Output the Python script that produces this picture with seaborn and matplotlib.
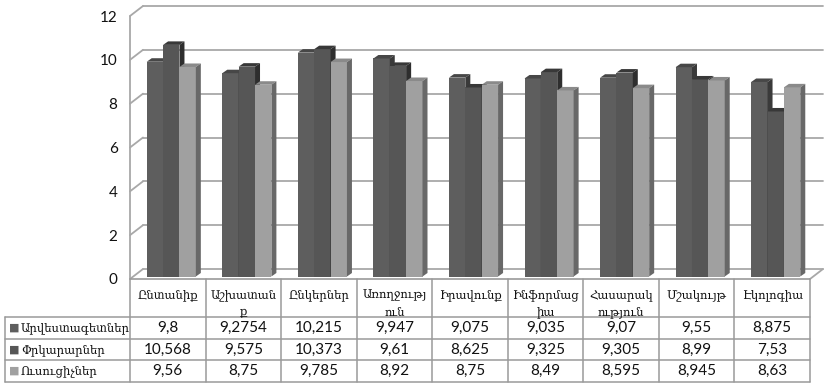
import numpy as np
import pandas as pd
import matplotlib
matplotlib.use("Agg")
import matplotlib.pyplot as plt
import seaborn as sns
from matplotlib.patches import Polygon

# ---- data -------------------------------------------------------------
categories = ["Ընտանիք", "Աշխատանք", "Ընկերներ", "Առողջություն", "Իրավունք",
              "Ինֆորմացիա", "Հասարակություն", "Մշակույթ", "Էկոլոգիա"]
category_labels = ["Ընտանիք", "Աշխատան\nք", "Ընկերներ", "Առողջությ\nուն", "Իրավունք",
                   "Ինֆորմաց\nիա", "Հասարակ\nություն", "Մշակույթ", "Էկոլոգիա"]
series_names = ["Արվեստագետներ", "Փրկարարներ", "Ուսուցիչներ"]
artists = [9.8, 9.2754, 10.215, 9.947, 9.075, 9.035, 9.07, 9.55, 8.875]
rescuers = [10.568, 9.575, 10.373, 9.61, 8.625, 9.325, 9.305, 8.99, 7.53]
teachers = [9.56, 8.75, 9.785, 8.92, 8.75, 8.49, 8.595, 8.945, 8.63]
y_ticks = [0, 2, 4, 6, 8, 10, 12]

series_values = [artists, rescuers, teachers]

# ---- styling ----------------------------------------------------------
front_colors = ["#5e5e5e", "#565656", "#a0a0a0"]
top_colors = ["#474747", "#383838", "#8a8a8a"]
side_colors = ["#3a3a3a", "#2e2e2e", "#686868"]
grid_color = "#a8a8a8"
border_color = "#9a9a9a"
arm_font = "DejaVu Serif"
num_font = "Lato"
arm_size = 8.4
num_size = 11

sns.set_theme(style="white")
plt.rcParams["font.family"] = ["DejaVu Sans"]

W, H = 825, 384
fig = plt.figure(figsize=(W / 100, H / 100), dpi=100)
fig.patch.set_facecolor("white")

# plot area in pixels (from top-left)
px_left, px_right, px_zero, px_top = 130, 810, 279, 16
ax = fig.add_axes([px_left / W, (H - px_zero) / H,
                   (px_right - px_left) / W, (px_zero - px_top) / H])
ax.set_facecolor("none")

df = pd.DataFrame({
    "category": np.tile(categories, len(series_names)),
    "series": np.repeat(series_names, len(categories)),
    "value": np.concatenate(series_values),
})

sns.barplot(data=df, x="category", y="value", hue="series",
            order=categories, hue_order=series_names,
            palette=front_colors, width=0.65, dodge=True, saturation=1,
            errorbar=None, linewidth=0, legend=False, ax=ax)
bars = list(ax.patches)

ax.set_xlim(-0.5, len(categories) - 0.5)
ax.set_ylim(0, 12)
for s in ax.spines.values():
    s.set_visible(False)
ax.set_xticks([])
ax.set_xlabel("")
ax.set_ylabel("")
ax.set_yticks(y_ticks)
ax.set_yticklabels([str(t) for t in y_ticks], fontfamily=num_font, fontsize=num_size,
                   color="#111111")
ax.tick_params(axis="y", length=0, pad=9)

# pixel -> data scale factors
ux = (px_right - px_left) / len(categories)
uy = (px_zero - px_top) / 12.0

# walls and floor depth
wdx, wdy = 13 / ux, 10 / uy
x_lo, x_hi = -0.5, len(categories) - 0.5
for t in y_ticks:
    ax.plot([x_lo + wdx, x_hi + wdx], [t + wdy, t + wdy], color=grid_color,
            lw=1.3, clip_on=False, zorder=1)
    ax.plot([x_lo, x_lo + wdx], [t, t + wdy], color=grid_color, lw=1.3,
            clip_on=False, zorder=1)
ax.plot([x_lo, x_lo], [0, 12], color=grid_color, lw=1.3, clip_on=False, zorder=1)
ax.plot([x_hi, x_hi + wdx], [0, wdy], color=grid_color, lw=1.3, clip_on=False, zorder=1)
ax.plot([x_lo, x_hi], [0, 0], color=border_color, lw=1.2, clip_on=False, zorder=1)

# 3D bar faces
shift_x, shift_y = 3.5 / ux, 2.5 / uy
bdx, bdy = 5 / ux, 3.5 / uy
bars_sorted = sorted(bars, key=lambda p: p.get_x())
for i, p in enumerate(bars_sorted):
    s = i % len(series_names)
    p.set_x(p.get_x() + shift_x)
    p.set_y(p.get_y() + shift_y)
    p.set_zorder(2 + 2 * s)
    x0, y0, w, h = p.get_x(), p.get_y(), p.get_width(), p.get_height()
    top = Polygon([(x0, y0 + h), (x0 + w, y0 + h), (x0 + w + bdx, y0 + h + bdy),
                   (x0 + bdx, y0 + h + bdy)], closed=True, facecolor=top_colors[s],
                  edgecolor="none", zorder=3 + 2 * s, clip_on=False)
    side = Polygon([(x0 + w, y0), (x0 + w + bdx, y0 + bdy),
                    (x0 + w + bdx, y0 + h + bdy), (x0 + w, y0 + h)], closed=True,
                   facecolor=side_colors[s], edgecolor="none", zorder=3 + 2 * s,
                   clip_on=False)
    ax.add_patch(top)
    ax.add_patch(side)

# ---- data table -------------------------------------------------------
tax = fig.add_axes([0, 0, 1, 1], zorder=-1)
tax.set_xlim(0, W)
tax.set_ylim(H, 0)
tax.set_axis_off()

tbl_left = 5
row_edges = [317, 339, 360, 382]
col_edges = [px_left + k * ux for k in range(len(categories) + 1)]

for xe in col_edges:
    tax.plot([xe, xe], [px_zero, row_edges[-1]], color=border_color, lw=1.1)
tax.plot([tbl_left, tbl_left], [row_edges[0], row_edges[-1]], color=border_color, lw=1.1)
for ye in row_edges:
    tax.plot([tbl_left, px_right], [ye, ye], color=border_color, lw=1.1)

for k, lab in enumerate(category_labels):
    xc = (col_edges[k] + col_edges[k + 1]) / 2
    tax.text(xc, 288, lab, ha="center", va="top", fontfamily=arm_font,
             fontsize=arm_size, color="#111111", linespacing=1.45)

for r, (name, vals) in enumerate(zip(series_names, series_values)):
    yc = (row_edges[r] + row_edges[r + 1]) / 2
    tax.text(14, yc, "■", ha="center", va="center", fontsize=8,
             color=front_colors[r], fontfamily="DejaVu Sans")
    tax.text(21, yc, name, ha="left", va="center", fontfamily=arm_font,
             fontsize=arm_size, color="#111111")
    for k, v in enumerate(vals):
        xc = (col_edges[k] + col_edges[k + 1]) / 2
        tax.text(xc, yc, repr(v).replace(".", ","), ha="center", va="center",
                 fontfamily=num_font, fontsize=num_size, color="#111111")

fig.savefig("out.png", dpi=100, facecolor="white")
